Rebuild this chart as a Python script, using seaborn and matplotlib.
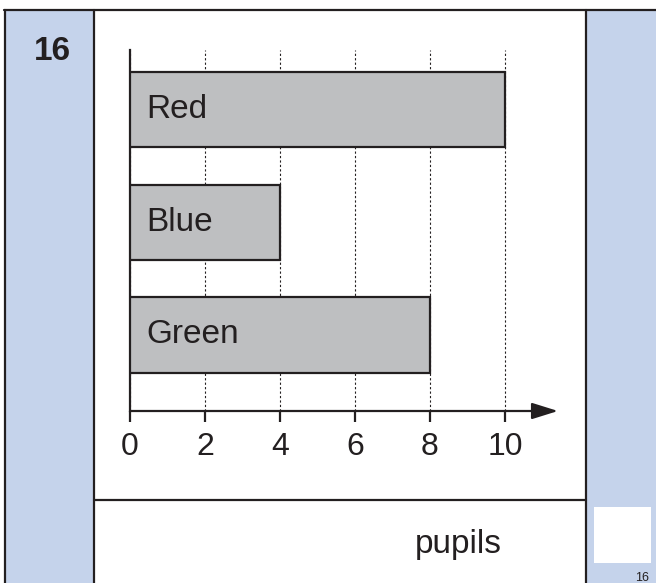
import matplotlib
matplotlib.use("Agg")
import matplotlib.pyplot as plt
import seaborn as sns
import pandas as pd
from matplotlib.patches import Rectangle
from matplotlib.lines import Line2D

colours = ["Red", "Blue", "Green"]
pupils = [10, 4, 8]
x_ticks = [0, 2, 4, 6, 8, 10]

W, H = 656, 583
ink = "#231f20"
panel_blue = "#c5d3eb"
bar_grey = "#bebfc1"

sns.set_theme(style="white")
plt.rcParams["font.family"] = ["Liberation Sans", "DejaVu Sans"]

fig = plt.figure(figsize=(W / 100, H / 100), dpi=100)

def fx(px):
    return px / W

def fy(py):
    return 1 - py / H

# page frame: blue side columns, borders, answer box
fig.add_artist(Rectangle((fx(5), fy(583)), fx(89), 573 / H, transform=fig.transFigure,
                         facecolor=panel_blue, edgecolor="none", zorder=0))
fig.add_artist(Rectangle((fx(586), fy(583)), fx(70), 573 / H, transform=fig.transFigure,
                         facecolor=panel_blue, edgecolor="none", zorder=0))
fig.add_artist(Rectangle((fx(594), fy(563)), fx(57), 56 / H, transform=fig.transFigure,
                         facecolor="white", edgecolor="none", zorder=1))
for xs, ys in [((4, 656), (10, 10)), ((5, 5), (10, 583)), ((94, 94), (10, 583)),
               ((586, 586), (10, 583)), ((94, 586), (500, 500))]:
    fig.add_artist(Line2D([fx(xs[0]), fx(xs[1])], [fy(ys[0]), fy(ys[1])],
                          transform=fig.transFigure, color=ink, lw=1.6, zorder=2))

fig.text(fx(52), fy(51), "16", fontsize=24, fontweight="bold", color=ink,
         ha="center", va="center")
fig.text(fx(458), fy(553), "pupils", fontsize=24, color=ink, ha="center", va="baseline")
fig.text(fx(642), fy(581), "16", fontsize=9, color=ink, ha="center", va="baseline")

# chart
ax = fig.add_axes([fx(130), fy(411), 428 / W, 361 / H])
df = pd.DataFrame({"colour": colours, "pupils": pupils})
sns.barplot(data=df, y="colour", x="pupils", orient="h", color=bar_grey,
            edgecolor=ink, linewidth=1.6, width=0.667, saturation=1, ax=ax, zorder=3)

ax.set_xlim(0, 428 / 37.5)
ax.set_ylim(2.675, -0.53)
ax.set_xticks(x_ticks)
ax.set_xticklabels([str(t) for t in x_ticks], fontsize=23, color=ink)
ax.set_yticks([])
ax.set_xlabel("")
ax.set_ylabel("")
ax.set_facecolor("none")

ax.tick_params(axis="x", direction="out", length=8, width=1.6, color=ink,
               pad=7, bottom=True)
ax.xaxis.grid(True, linestyle=(0, (2, 2)), color=ink, linewidth=0.8)
ax.set_axisbelow(True)

for s in ["top", "right", "bottom"]:
    ax.spines[s].set_visible(False)
ax.spines["left"].set_color(ink)
ax.spines["left"].set_linewidth(1.6)

ax.annotate("", xy=(1, 0), xytext=(0, 0), xycoords="axes fraction",
            arrowprops=dict(arrowstyle="-|>,head_length=0.8,head_width=0.25",
                            mutation_scale=20, color=ink, lw=1.6,
                            shrinkA=0, shrinkB=0))

for i, name in enumerate(colours):
    ax.text(0.43, i, name, fontsize=24, color=ink, va="center", ha="left", zorder=4)

fig.savefig("out.png", dpi=100)
